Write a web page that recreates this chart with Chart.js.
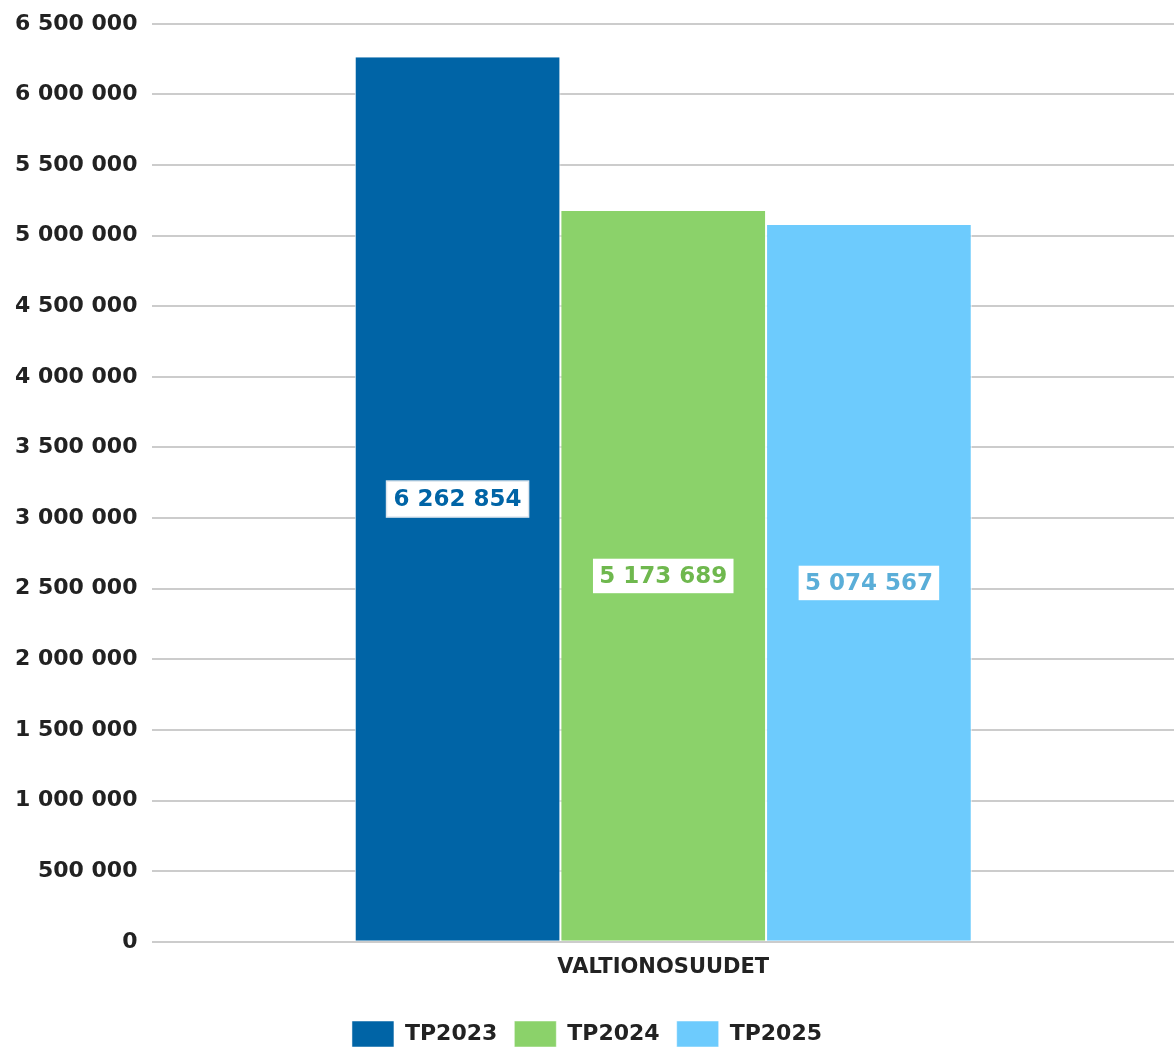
<!DOCTYPE html>
<html>
<head>
<meta charset="utf-8">
<script src="https://cdn.jsdelivr.net/npm/chart.js@4/dist/chart.umd.min.js"></script>
<style>
  body { margin: 0; background: #fff; }
  #wrap { width: 1174px; height: 1047px; }
</style>
</head>
<body>
<div id="wrap"><canvas id="chart"></canvas></div>
<script>
const categories = ["VALTIONOSUUDET"];
const seriesNames = ["TP2023", "TP2024", "TP2025"];
const tp2023 = [6262854];
const tp2024 = [5173689];
const tp2025 = [5074567];
const colors = ["#0064a6", "#8bd26a", "#6dcbfd"];

const fmt = (v) => String(Math.round(v)).replace(/\B(?=(\d{3})+(?!\d))/g, " ");
const FONT = "'DejaVu Sans', sans-serif";

// white boxed value label in the middle of each bar
const boxLabels = {
  id: "boxLabels",
  afterDatasetsDraw(chart) {
    const ctx = chart.ctx;
    ctx.save();
    ctx.font = "bold 23px " + FONT;
    ctx.textAlign = "center";
    ctx.textBaseline = "middle";
    chart.data.datasets.forEach((ds, i) => {
      const meta = chart.getDatasetMeta(i);
      meta.data.forEach((bar, j) => {
        const txt = fmt(ds.data[j]);
        const cy = (bar.y + bar.base) / 2;
        const w = ctx.measureText(txt).width + 14;
        const h = 36;
        ctx.fillStyle = "#fff";
        ctx.fillRect(bar.x - w / 2, cy - h / 2, w, h);
        ctx.strokeStyle = i === 0 ? "#dde6ee" : ds.backgroundColor;
        ctx.lineWidth = 1.5;
        ctx.strokeRect(bar.x - w / 2, cy - h / 2, w, h);
        ctx.fillStyle = i === 2 ? "#5aaed8" : (i === 1 ? "#6fb84e" : ds.backgroundColor);
        ctx.fillText(txt, bar.x, cy + 1);
      });
    });
    ctx.restore();
  }
};

new Chart("chart", {
  type: "bar",
  data: {
    labels: categories,
    datasets: [
      { label: seriesNames[0], data: tp2023, backgroundColor: colors[0] },
      { label: seriesNames[1], data: tp2024, backgroundColor: colors[1] },
      { label: seriesNames[2], data: tp2025, backgroundColor: colors[2] }
    ]
  },
  options: {
    responsive: true,
    maintainAspectRatio: false,
    animation: false,
    layout: { padding: { top: 0, right: 0, left: 0, bottom: -10 } },
    datasets: {
      bar: {
        categoryPercentage: 0.604,
        barPercentage: 1,
        borderColor: "#ffffff",
        borderWidth: { left: 1, right: 1 },
        borderSkipped: false
      }
    },
    plugins: {
      legend: {
        position: "bottom",
        labels: {
          boxWidth: 42,
          boxHeight: 26,
          padding: 17,
          color: "#222",
          font: { family: FONT, size: 22, weight: "bold" }
        }
      },
      tooltip: { enabled: false }
    },
    scales: {
      x: {
        grid: { display: false },
        border: { display: false },
        afterFit: (s) => { s.height += 19; },
        ticks: {
          color: "#222",
          padding: 5,
          font: { family: FONT, size: 21, weight: "bold" }
        }
      },
      y: {
        min: 0,
        max: 6500000,
        border: { display: false },
        grid: { color: "#cccccc", lineWidth: 2, drawTicks: false },
        ticks: {
          stepSize: 500000,
          padding: 15,
          color: "#222",
          font: { family: FONT, size: 22, weight: "bold", lineHeight: 0.8 },
          callback: (v) => fmt(v)
        }
      }
    }
  },
  plugins: [boxLabels]
});
</script>
</body>
</html>
